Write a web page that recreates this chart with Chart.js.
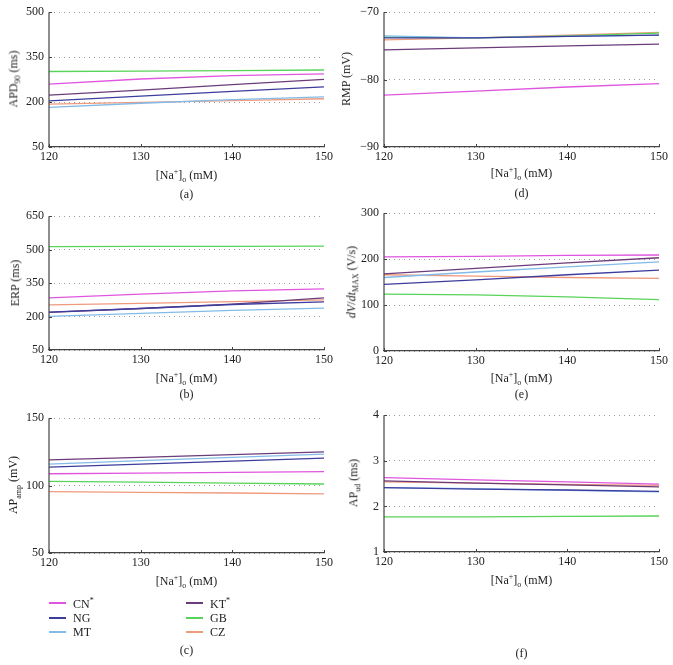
<!DOCTYPE html>
<html>
<head>
<meta charset="utf-8">
<title>[Na+]o sensitivity</title>
<script src="https://cdn.jsdelivr.net/npm/chart.js"></script>
<style>
  body { margin: 0; background: #fff; }
  #wrap { position: relative; width: 673px; height: 665px; font-family: "Liberation Serif", serif; color: #222; }
  #wrap canvas { position: absolute; }
  .lbl { position: absolute; white-space: nowrap; font-size: 12px; transform: translate(-50%, -50%); line-height: 1; }
  .ylbl { transform: translate(-50%, -50%) rotate(-90deg); }
  .lbl sub, .lbl sup { font-size: 8px; }
  .leg { position: absolute; font-size: 12px; white-space: nowrap; transform: translateY(-50%); line-height: 1; }
  .leg sup { font-size: 8px; }
  .legline { position: absolute; width: 17px; height: 1.5px; }
</style>
</head>
<body>
<div id="wrap"></div>

<script>
// [Na+]o values (mM)
const sodium = [120, 130, 140, 150];
const cellNames = ["CN*", "NG", "MT", "KT*", "GB", "CZ"];
const cellColors = ["#e055e0", "#3d3d9e", "#82bbe8", "#6c3c7a", "#58d458", "#f09a7c"];

// series in the order of cellNames
const apd90 = [[260, 277, 288, 294], [204, 220, 236, 251], [182, 196, 208, 217],
               [223, 240, 258, 276], [302, 303, 305, 307], [193, 199, 205, 211]];
const erp   = [[284, 301, 315, 324], [220, 236, 254, 266], [201, 214, 228, 238],
               [219, 236, 256, 284], [514, 515, 515, 516], [252, 259, 267, 275]];
const apAmp = [[108.8, 109.3, 109.8, 110.3], [113.7, 116, 118.2, 120.4], [116, 118.5, 121, 123.3],
               [119.1, 121, 123, 125], [103.2, 102.6, 101.9, 101.2], [95.6, 95.0, 94.5, 93.9]];
const rmp   = [[-82.3, -81.7, -81.1, -80.6], [-73.8, -73.8, -73.6, -73.4], [-73.5, -73.8, -73.6, -73.4],
               [-75.6, -75.3, -75.0, -74.75], [-73.7, -73.8, -73.5, -73.1], [-74.1, -73.8, -73.4, -73.0]];
const dvdt  = [[205, 206, 208, 209], [145, 155, 166, 176], [160, 172, 183, 194],
               [168, 180, 192, 203], [124, 122, 118, 112], [166, 163, 160, 158]];
const apUd  = [[2.63, 2.58, 2.54, 2.49], [2.41, 2.38, 2.36, 2.33], [2.41, 2.39, 2.35, 2.32],
               [2.56, 2.51, 2.47, 2.43], [1.77, 1.77, 1.78, 1.79], [2.54, 2.51, 2.48, 2.46]];

const xTitle = "[Na<sup>+</sup>]<sub>o</sub> (mM)";

const panels = [
  { id: "a", data: apd90, col: 0, top: 11,  bottom: 147, min: 50,  max: 500, step: 150,
    ytitle: "APD<sub>90</sub> (ms)", ty: 176, cy: 194, yx: 15 },
  { id: "b", data: erp,   col: 0, top: 215, bottom: 350, min: 50,  max: 650, step: 150,
    ytitle: "ERP (ms)", ty: 379, cy: 394, yx: 15 },
  { id: "c", data: apAmp, col: 0, top: 417, bottom: 553, min: 50,  max: 150, step: 50,
    ytitle: "AP<sub>amp</sub> (mV)", ty: 582, cy: 650, yx: 15 },
  { id: "d", data: rmp,   col: 1, top: 11,  bottom: 147, min: -90, max: -70, step: 10,
    ytitle: "RMP (mV)", ty: 174, cy: 193, yx: 346 },
  { id: "e", data: dvdt,  col: 1, top: 212, bottom: 351, min: 0,   max: 300, step: 100,
    ytitle: "<i>dV</i>/<i>dt</i><sub>MAX</sub> (V/s)", ty: 379, cy: 394, yx: 353 },
  { id: "f", data: apUd,  col: 1, top: 414, bottom: 552, min: 1,   max: 4,   step: 1,
    ytitle: "AP<sub>ud</sub> (ms)", ty: 581, cy: 653, yx: 355 }
];

// solid left axis plus small inward tick marks on both axes
const axisMarks = {
  id: "axisMarks",
  afterDraw(chart) {
    const { ctx, chartArea: a, scales } = chart;
    ctx.save();
    ctx.strokeStyle = "#444";
    ctx.lineWidth = 1.2;
    ctx.beginPath();
    ctx.moveTo(a.left, a.top);
    ctx.lineTo(a.left, a.bottom);
    ctx.stroke();
    ctx.lineWidth = 1;
    ctx.beginPath();
    scales.x.ticks.forEach((t, i) => {
      const x = Math.round(scales.x.getPixelForTick(i)) + 0.5;
      ctx.moveTo(x, a.bottom); ctx.lineTo(x, a.bottom - 3);
    });
    scales.y.ticks.forEach((t, i) => {
      const y = Math.round(scales.y.getPixelForTick(i)) + 0.5;
      ctx.moveTo(a.left, y); ctx.lineTo(a.left + 3, y);
    });
    ctx.stroke();
    ctx.restore();
  }
};

const wrap = document.getElementById("wrap");
const font = { family: "'Liberation Serif', serif", size: 12 };

function addLabel(html, x, y, cls) {
  const d = document.createElement("div");
  d.className = "lbl" + (cls ? " " + cls : "");
  d.innerHTML = html;
  d.style.left = x + "px";
  d.style.top = y + "px";
  wrap.appendChild(d);
}

panels.forEach(p => {
  const cw = 336;
  const cx = p.col === 0 ? 0 : 335;
  const ct = p.top - 11;
  const ch = (p.bottom - ct) + 23;
  const cv = document.createElement("canvas");
  cv.width = cw; cv.height = ch;
  cv.style.left = cx + "px"; cv.style.top = ct + "px";
  cv.style.width = cw + "px"; cv.style.height = ch + "px";
  wrap.appendChild(cv);

  new Chart(cv, {
    type: "line",
    data: {
      datasets: p.data.map((vals, i) => ({
        label: cellNames[i],
        data: sodium.map((x, j) => ({ x: x, y: vals[j] })),
        borderColor: cellColors[i],
        borderWidth: 1.3,
        pointRadius: 0,
        tension: 0,
        fill: false
      }))
    },
    options: {
      responsive: false,
      animation: false,
      devicePixelRatio: 1,
      layout: { padding: { left: 0, right: 12, top: 11, bottom: 0 } },
      plugins: { legend: { display: false }, tooltip: { enabled: false } },
      scales: {
        x: {
          type: "linear", min: 120, max: 150,
          ticks: { stepSize: 10, font: font, color: "#222", padding: 3, maxRotation: 0 },
          grid: { display: false, drawTicks: false },
          border: { color: "#444", width: 1.2 },
          afterFit(s) { s.height = 23; }
        },
        y: {
          min: p.min, max: p.max,
          ticks: {
            stepSize: p.step, font: font, color: "#222", padding: 5,
            callback: v => String(v).replace("-", "\u2212")
          },
          grid: { color: "#9a9a9a", lineWidth: 1, drawTicks: false },
          border: { display: false, dash: [1, 4] },
          afterFit(s) { s.width = 49; }
        }
      }
    },
    plugins: [axisMarks]
  });

  const midX = p.col === 0 ? 186.5 : 521.5;
  addLabel(xTitle, midX, p.ty);
  addLabel("(" + p.id + ")", midX, p.cy);
  addLabel(p.ytitle, p.yx, (p.top + p.bottom) / 2, "ylbl");
});

// shared legend under panel (c)
const legRows = [603, 618, 632];
const legCols = [49, 186];
cellNames.forEach((name, i) => {
  const col = Math.floor(i / 3), row = i % 3;
  const ln = document.createElement("div");
  ln.className = "legline";
  ln.style.background = cellColors[i];
  ln.style.left = legCols[col] + "px";
  ln.style.top = (legRows[row] - 1) + "px";
  wrap.appendChild(ln);
  const t = document.createElement("div");
  t.className = "leg";
  t.innerHTML = name.replace("*", "<sup>*</sup>");
  t.style.left = (legCols[col] + 24) + "px";
  t.style.top = legRows[row] + "px";
  wrap.appendChild(t);
});
</script>
</body>
</html>
